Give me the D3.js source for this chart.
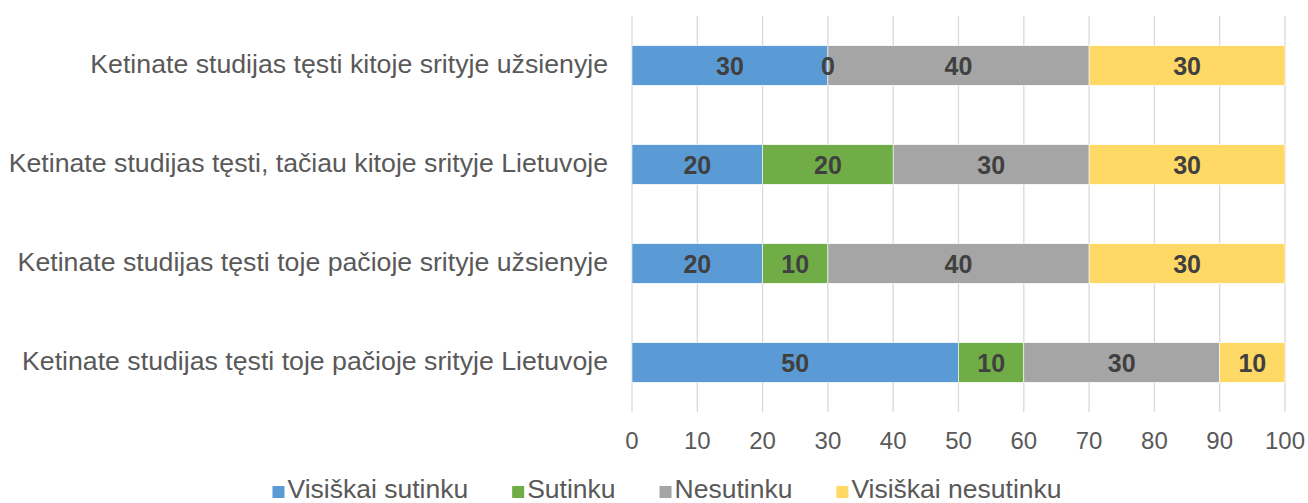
<!DOCTYPE html>
<html>
<head>
<meta charset="utf-8">
<script src="https://cdn.jsdelivr.net/npm/d3@7"></script>
<style>
  html, body { margin: 0; padding: 0; background: #fff; }
  svg { display: block; font-family: Arial, "Liberation Sans", sans-serif; }
</style>
</head>
<body>
<div id="chart"></div>
<script>
// Stacked horizontal bar chart — share of answers per statement

const categories = [
  'Ketinate studijas tęsti kitoje srityje užsienyje',
  'Ketinate studijas tęsti, tačiau kitoje srityje Lietuvoje',
  'Ketinate studijas tęsti toje pačioje srityje užsienyje',
  'Ketinate studijas tęsti toje pačioje srityje Lietuvoje'
];
const seriesNames = ['Visiškai sutinku', 'Sutinku', 'Nesutinku', 'Visiškai nesutinku'];
const seriesColors = ['#5B9BD5', '#70AD47', '#A5A5A5', '#FFD966'];
const visiskaiSutinku = [30, 20, 20, 50];
const sutinku = [0, 20, 10, 10];
const nesutinku = [40, 30, 40, 30];
const visiskaiNesutinku = [30, 30, 30, 10];
const xTicks = [0, 10, 20, 30, 40, 50, 60, 70, 80, 90, 100];

const width = 1308, height = 503;
const margin = { top: 16, right: 23, bottom: 91, left: 632 };

const rows = categories.map((c, i) => ({
  name: c,
  values: [visiskaiSutinku[i], sutinku[i], nesutinku[i], visiskaiNesutinku[i]]
}));

const svg = d3.select('#chart').append('svg')
  .attr('width', width)
  .attr('height', height);

const x = d3.scaleLinear().domain([0, 100]).range([margin.left, width - margin.right]);
const y = d3.scaleBand().domain(categories)
  .range([margin.top, height - margin.bottom])
  .paddingInner(0.6).paddingOuter(0.3);

// vertical gridlines
svg.append('g')
  .selectAll('line')
  .data(xTicks)
  .join('line')
  .attr('x1', d => x(d)).attr('x2', d => x(d))
  .attr('y1', margin.top).attr('y2', height - margin.bottom)
  .attr('stroke', '#D9D9D9')
  .attr('stroke-width', 1.3);

// stacked segments
const stack = d3.stack().keys([0, 1, 2, 3]).value((d, k) => d.values[k]);
const layers = stack(rows);

layers.forEach((layer, k) => {
  const g = svg.append('g');
  g.selectAll('rect')
    .data(layer)
    .join('rect')
    .attr('x', d => x(d[0]))
    .attr('y', d => y(d.data.name))
    .attr('width', d => x(d[1]) - x(d[0]))
    .attr('height', y.bandwidth())
    .attr('fill', seriesColors[k])
    .attr('stroke', '#fff')
    .attr('stroke-width', 0.6);
});

// data labels (drawn after all bars so zero-width segments still show)
layers.forEach((layer, k) => {
  svg.append('g')
    .selectAll('text')
    .data(layer)
    .join('text')
    .attr('x', d => x((d[0] + d[1]) / 2))
    .attr('y', d => y(d.data.name) + y.bandwidth() / 2 + 9)
    .attr('text-anchor', 'middle')
    .attr('fill', '#404040')
    .attr('font-weight', 'bold')
    .attr('font-size', 25)
    .text(d => d[1] - d[0]);
});

// category labels
svg.append('g')
  .selectAll('text')
  .data(categories)
  .join('text')
  .attr('x', margin.left - 24)
  .attr('y', d => y(d) + y.bandwidth() / 2 + 7.5)
  .attr('text-anchor', 'end')
  .attr('fill', '#595959')
  .attr('font-size', 26.7)
  .text(d => d);

// x tick labels
svg.append('g')
  .selectAll('text')
  .data(xTicks)
  .join('text')
  .attr('x', d => x(d))
  .attr('y', 449)
  .attr('text-anchor', 'middle')
  .attr('fill', '#595959')
  .attr('font-size', 24)
  .text(d => d);

// legend — laid out from measured text widths, centred under the chart
const legend = svg.append('g');
const items = seriesNames.map((name, k) => {
  const g = legend.append('g');
  g.append('rect')
    .attr('x', 0).attr('y', 486)
    .attr('width', 12).attr('height', 12)
    .attr('fill', seriesColors[k]);
  const t = g.append('text')
    .attr('x', 15).attr('y', 498)
    .attr('fill', '#595959')
    .attr('font-size', 26.5)
    .text(name);
  return { g, w: 15 + t.node().getComputedTextLength() };
});
const gap = 44;
const total = d3.sum(items, d => d.w) + gap * (items.length - 1);
let cx = 667 - total / 2;
items.forEach(it => {
  it.g.attr('transform', `translate(${cx},0)`);
  cx += it.w + gap;
});
</script>
</body>
</html>
